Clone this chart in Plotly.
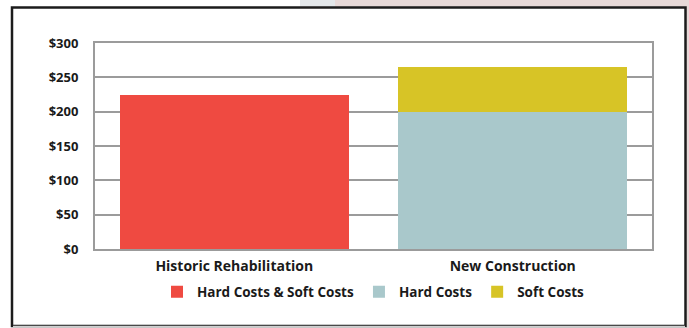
import plotly.graph_objects as go

# Cost per square foot, by project type
categories = ["Historic Rehabilitation", "New Construction"]
rehab_total = [225, None]          # Hard Costs & Soft Costs
new_hard = [None, 200]             # Hard Costs
new_soft = [None, 65]              # Soft Costs
y_ticks = [0, 50, 100, 150, 200, 250, 300]
y_tick_text = ["$0", "$50", "$100", "$150", "$200", "$250", "$300"]

W, H = 689, 328
L, R, T, B = 95, 652, 43, 249   # plot area edges in pixels

def px_x(p):
    return (p - L) / (R - L)

def px_y(p):
    return (B - p) / (B - T)

FAMILY = "Open Sans"
INK = "#1a1a1a"

fig = go.Figure()
fig.add_bar(x=categories, y=rehab_total, name="Hard Costs & Soft Costs",
            marker=dict(color="#ef4a41", line=dict(width=0)))
fig.add_bar(x=categories, y=new_hard, name="Hard Costs",
            marker=dict(color="#a9c8cb", line=dict(width=0)))
fig.add_bar(x=categories, y=new_soft, name="Soft Costs",
            marker=dict(color="#d7c426", line=dict(width=0)))

shapes = [
    # faded backdrop strip above the panel
    dict(type="rect", xref="paper", yref="paper", layer="below",
         x0=px_x(300), x1=px_x(335), y0=px_y(7), y1=px_y(-2),
         fillcolor="#e3e7ea", line=dict(width=0)),
    dict(type="rect", xref="paper", yref="paper", layer="below",
         x0=px_x(335), x1=px_x(W + 2), y0=px_y(7), y1=px_y(-2),
         fillcolor="#e7d9d8", line=dict(width=0)),
    dict(type="rect", xref="paper", yref="paper", layer="below",
         x0=px_x(686), x1=px_x(W + 2), y0=px_y(H + 2), y1=px_y(-2),
         fillcolor="#e7d9d8", line=dict(width=0)),
    # framed panel
    dict(type="rect", xref="paper", yref="paper", layer="below",
         x0=px_x(12), x1=px_x(685.5), y0=px_y(326), y1=px_y(7.5),
         fillcolor="white", line=dict(color="#1c1c1c", width=2.5)),
    dict(type="line", xref="paper", yref="paper",
         x0=px_x(13), x1=px_x(685), y0=px_y(326.5), y1=px_y(326.5),
         line=dict(color="#cfcfcf", width=1.5)),
]

fig.update_layout(
    width=W, height=H,
    margin=dict(l=L, r=W - R, t=T, b=H - B, pad=0),
    paper_bgcolor="white",
    plot_bgcolor="white",
    barmode="stack",
    bargap=0.178,
    font=dict(family=FAMILY, size=13, color=INK, weight=700),
    shapes=shapes,
    showlegend=True,
    legend=dict(orientation="h", x=0.5, xanchor="center",
                y=px_y(292), yanchor="middle", traceorder="normal",
                font=dict(family=FAMILY, size=13.5, color=INK, weight=700),
                itemwidth=30, bgcolor="rgba(0,0,0,0)"),
)
fig.update_xaxes(
    showline=True, mirror=True, linecolor="#9b9b9b", linewidth=2,
    showgrid=False, ticks="",
    tickfont=dict(family=FAMILY, size=14, color=INK, weight=700),
    ticklabelstandoff=3,
)
fig.update_yaxes(
    range=[0, 300], tickvals=y_ticks, ticktext=y_tick_text,
    showline=True, mirror=True, linecolor="#9b9b9b", linewidth=2,
    showgrid=True, gridcolor="#9b9b9b", gridwidth=1.5, zeroline=False,
    ticks="", ticklabelstandoff=12,
    tickfont=dict(family=FAMILY, size=13, color=INK, weight=700),
)

fig.write_html("out.html")
